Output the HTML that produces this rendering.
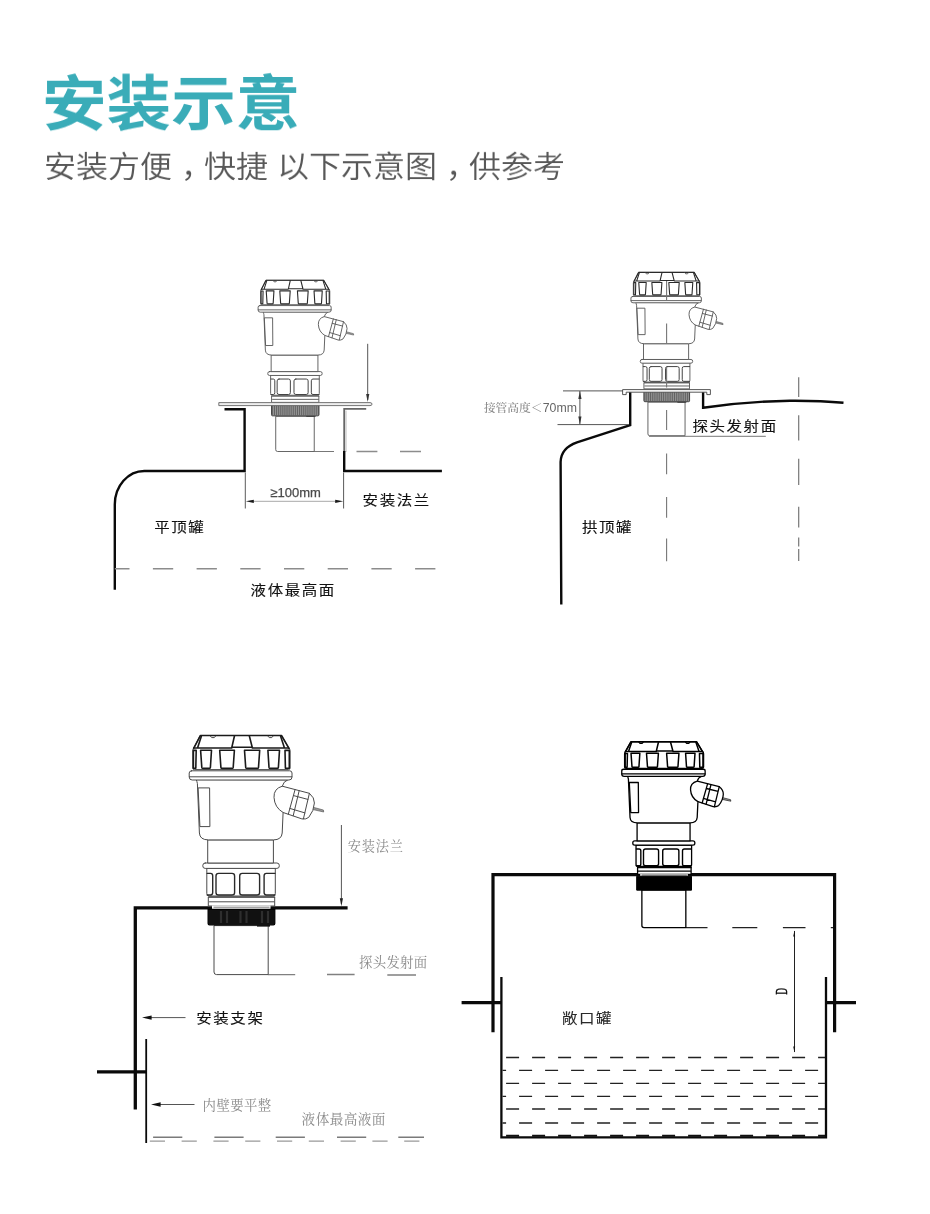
<!DOCTYPE html>
<html lang="zh-CN">
<head>
<meta charset="utf-8">
<title>安装示意</title>
<style>
html,body{margin:0;padding:0;background:#fff;}
body{width:930px;height:1214px;overflow:hidden;position:relative;font-family:"Liberation Sans","Noto Sans CJK SC",sans-serif;}
svg{position:absolute;left:0;top:0;display:block;will-change:transform;}
#sbody path,#sbody rect{stroke:var(--s);stroke-width:var(--w);vector-effect:non-scaling-stroke;}
#sbody .bold{stroke:var(--bs);stroke-width:var(--b);}
#sbody .nutf{stroke:var(--ns);stroke-width:var(--nw);}
#sbody .thin{stroke-width:0.6;}
.t{font-family:"Liberation Sans","Noto Sans CJK SC",sans-serif;fill:#111;font-weight:400;stroke:#111;stroke-width:0.12px;}
.g{font-family:"Liberation Serif","Noto Serif CJK SC",serif;fill:#8a8a8a;}
.k{stroke:#0a0a0a;fill:none;stroke-linejoin:miter;}
.n{stroke:#555;fill:none;stroke-width:1;}
.d{stroke:#888;fill:none;stroke-width:1.3;}
h1{position:absolute;left:42.4px;top:56px;margin:0;font-size:63.5px;line-height:92px;font-weight:700;color:#3aacb8;white-space:nowrap;letter-spacing:0;transform:scale(1.017,0.935);transform-origin:0 78px;will-change:transform;}
p.sub{position:absolute;left:43.5px;top:143px;margin:0;font-size:32px;line-height:46px;font-weight:350;color:#585858;white-space:nowrap;transform:scale(1,0.94);transform-origin:0 37px;will-change:transform;}
p.sub i{font-style:normal;display:inline-block;width:32px;text-indent:9px;}
</style>
</head>
<body>
<h1>安装示意</h1>
<p class="sub">安装方便<i>，</i>快捷 以下示意图<i>，</i>供参考</p>
<svg width="930" height="1214" viewBox="0 0 930 1214">
<defs>

<g id="sbody" fill="#fff" stroke-linejoin="round" stroke-linecap="round">
  <!-- probe -->
  <path d="M214 926 V972 Q214 974.6 216.6 974.6 H268.2 V926 Z"/>
  <!-- lower ring -->
  <path d="M208.7 896.8 H274.7 V906 H208.7 Z"/>
  <path d="M208.7 897.3 H274.7 M209.5 901.8 H274" fill="none"/>
  <!-- nut -->
  <path d="M206.8 868.5 V893.5 Q206.8 896 209.5 896 H272.6 Q275.3 896 275.3 893.5 V868.5 Z"/>
  <path d="M207.2 873.4 H210.6 Q212.7 873.4 212.7 875.8 V892.6 Q212.7 895 210.6 895 H207.2 M218.6 873.4 H232 Q234.6 873.4 234.6 876 V892.4 Q234.6 895 232 895 H218.6 Q216 895 216 892.4 V876 Q216 873.4 218.6 873.4 Z M242.3 873.4 H257 Q259.6 873.4 259.6 876 V892.4 Q259.6 895 257 895 H242.3 Q239.7 895 239.7 892.4 V876 Q239.7 873.4 242.3 873.4 Z M274.9 873.4 H266.4 Q264.1 873.4 264.1 875.8 V892.6 Q264.1 895 266.4 895 H274.9" fill="none" class="nutf"/>
  <!-- ring -->
  <rect x="202.8" y="863" width="76.5" height="5.4" rx="2.4"/>
  <!-- neck -->
  <path d="M208.1 839.9 H273.4 V863 H208.1 Z"/>
  <!-- gland -->
  <path d="M313 807.2 L323.4 810 L323.7 812 L313 809.6 Z" fill="#999" class="thin"/>
  <path d="M282.3 786.2 L309.4 793.3 Q314.6 797.6 314.4 803 Q314 811 308.7 817.4 Q306 819.6 301.9 818.9 L283.1 812.5"/>
  <path d="M295.1 789.4 L288.3 814.2 M299.2 790.6 L293.2 815.8 M309.4 793.3 L303.4 818.9 M293.6 795.6 L307.9 799.4 M289.8 808.4 L304.9 812.9" fill="none"/>
  <!-- body -->
  <path d="M196.4 780 Q197 781.6 197.4 783.6 L199.4 833 Q199.8 839.9 208.5 839.9 H273.4 Q281.6 839.9 282.2 833 L283.1 812.5 Q274.6 807.5 274 797.4 Q273.6 788.6 282.3 786.2 Q283.4 781.5 287.4 780 Z"/>
  <path d="M198.5 787.9 H209.6 L209.9 826.6 H200.3 Z" />
  <!-- flange -->
  <path d="M191.6 770.8 H289.6 Q292 770.8 292 773 V777 Q292 780 289 780 H192.2 Q189.2 780 189.2 777 V773 Q189.2 770.8 191.6 770.8 Z"/>
  <path d="M189.4 776.8 H291.8" fill="none"/>
  <!-- cap -->
  <path d="M200.5 735.5 H281.5 L288.6 747.8 Q290.1 749 290.1 751 V768 Q290.1 769.6 288.5 769.6 H194.3 Q192.7 769.6 192.7 768 V751 Q192.7 749 193.9 747.8 Z"/>
  <path d="M193.6 748.4 L200.5 735.5 H281.5 L289 748.4" fill="none" class="bold"/>
  <path d="M193.9 748 H231.7 L234.5 735.7 M288.6 748 H252.4 L249.3 735.7 M231.7 747.3 H252.4 M201.3 736.4 L197.6 747.8 M280.7 736.4 L284.4 747.8" fill="none" class="bold"/>
  <path d="M193.4 750.4 V768.2 H195.8 L196.2 750.4 Z M200.6 750.2 L201.8 767.4 Q201.9 768.4 202.9 768.4 H209.3 Q210.3 768.4 210.4 767.4 L211.5 750.2 Z M219.7 750.2 L220.9 767.4 Q221 768.4 222 768.4 H232.1 Q233.1 768.4 233.2 767.4 L234.4 750.2 Z M244.5 750.2 L245.7 767.4 Q245.8 768.4 246.8 768.4 H257.4 Q258.4 768.4 258.5 767.4 L259.7 750.2 Z M267.9 750.2 L269 767.4 Q269.1 768.4 270.1 768.4 H277.3 Q278.3 768.4 278.4 767.4 L279.5 750.2 Z M285 750.4 L285.4 768.2 H289.3 V750.4 Z" fill="none" class="bold"/>
  <path d="M210.5 736.2 l1.2 1.4 h2.6 l1.2 -1.4 M268 736.2 l1.2 1.4 h2.6 l1.2 -1.4" fill="none"/>
</g>

<path id="ah" d="M0 0 L-1.6 -8 L1.6 -8 Z"/>
<path id="ah3" d="M0 0 L-2.2 -9.6 L2.2 -9.6 Z"/>
<path id="ah2" d="M0 0 L-1.3 -6 L0.6 -6 Z"/>
</defs>

<!-- ============ diagram 1 : flat-top tank ============ -->
<g id="d1">
  <path style="stroke-width:2.4" class="k" d="M224.5 409.3 H244.6 V471 H144.3 A29.5 33.5 0 0 0 114.8 504.5 V589.8"/>
  <path style="stroke:#666;stroke-width:1.8" class="n" d="M344.2 452 V408.8 H366.2"/>
  <path style="stroke:#bbb;stroke-width:1" class="n" d="M346 452 V410.6"/>
  <path style="stroke-width:2.4" class="k" d="M344.2 451 V471 H441.9"/>
  <path style="stroke:#8c8c8c;stroke-width:1.4;stroke-dasharray:20.3 23.4;stroke-dashoffset:5.6" class="d" d="M114.8 568.8 H436"/>
  <path style="stroke:#8c8c8c;stroke-width:1.4" class="d" d="M356.5 451.5 H377.4 M400 451.5 H421"/>
  <path style="stroke:#5a5a5a" class="n" d="M245.3 472.5 V508.5 M343.6 472.5 V508.5"/>
  <path style="stroke:#a8a8a8" class="n" d="M250 501.3 H339"/>
  <use href="#ah" fill="#1a1a1a" transform="translate(245.8 501.3) rotate(90)"/>
  <use href="#ah" fill="#1a1a1a" transform="translate(343.2 501.3) rotate(-90)"/>
  <path class="n" d="M367.7 343.8 V400"/>
  <use href="#ah" fill="#333" transform="translate(367.7 402)"/>
  <path style="stroke:#777" class="n" d="M314 451.5 H334"/>
  <g transform="translate(123.692 -246.332) scale(0.71047 0.71602)" style="--s:#555;--w:0.9;--bs:#2a2a2a;--b:1.1;--ns:#444;--nw:1"><use href="#sbody"/><path d="M208.1 909.4 H274.8 V923.4 Q274.8 924.8 273.4 924.8 H209.5 Q208.1 924.8 208.1 923.4 Z" fill="#9a9a9a" stroke="#444" stroke-width="1" vector-effect="non-scaling-stroke"/><path d="M209.60 910 V924 M212.30 910 V924 M215.00 910 V924 M217.70 910 V924 M220.40 910 V924 M223.10 910 V924 M225.80 910 V924 M228.50 910 V924 M231.20 910 V924 M233.90 910 V924 M236.60 910 V924 M239.30 910 V924 M242.00 910 V924 M244.70 910 V924 M247.40 910 V924 M250.10 910 V924 M252.80 910 V924 M255.50 910 V924 M258.20 910 V924 M260.90 910 V924 M263.60 910 V924 M266.30 910 V924 M269.00 910 V924 M271.70 910 V924 M274.40 910 V924" stroke="#4a4a4a" stroke-width="0.7" vector-effect="non-scaling-stroke" fill="none"/><path d="M257 925.6 H270" stroke="#444" stroke-width="1.2" vector-effect="non-scaling-stroke" fill="none"/></g>
  <path d="M218.8 402.6 H370 Q372 402.6 372 404.1 Q372 405.6 370 405.6 H218.8 Z" fill="#eee" stroke="#666" stroke-width="0.9"/>
  <text x="295.6" y="497.4" text-anchor="middle" font-size="13" style="font-family:'Liberation Sans',sans-serif" fill="#4a4a4a" stroke="#4a4a4a" stroke-width="0.25">≥100mm</text>
  <text class="t" transform="translate(362.60 504.60) scale(1.060 0.970)" font-size="14.6" letter-spacing="1.5">安装法兰</text>
  <text class="t" transform="translate(154.20 532.40) scale(1.060 0.970)" font-size="14.6" letter-spacing="1.5">平顶罐</text>
  <text class="t" transform="translate(250.60 594.80) scale(1.060 0.970)" font-size="14.6" letter-spacing="1.5">液体最高面</text>
</g>

<!-- ============ diagram 2 : dome-top tank ============ -->
<g id="d2">
  <path style="stroke:#777;stroke-width:1.2" class="d" d="M798.7 377.2 V397.1 M798.7 415.3 V440.6 M798.7 458.7 V485 M798.7 506.7 V527.6 M798.7 537.5 V546.6 M798.7 549 V561.1"/>
  <path style="stroke-width:2.4" class="k" d="M630.2 391 V425.2 L577 442.4 Q561 448 560.6 462 L561.3 604.5"/>
  <path style="stroke-width:2.4" class="k" d="M703.1 391 V407.7 Q745 401.5 790 400.7 Q820 400.5 843.5 402.7"/>
  <path class="n" d="M563 390.9 H623 M557.5 424.6 H629 M579.9 391 V424.4"/>
  <use href="#ah" fill="#333" transform="translate(579.9 391) rotate(180)"/>
  <use href="#ah" fill="#333" transform="translate(579.9 424.5)"/>
  <path style="stroke:#777" class="n" d="M649 436.3 H765.8"/>
  <g transform="translate(501.388 -229.930) scale(0.68480 0.68298)" style="--s:#555;--w:0.9;--bs:#2a2a2a;--b:1.1;--ns:#444;--nw:1"><use href="#sbody"/><path d="M208.1 909.4 H274.8 V923.4 Q274.8 924.8 273.4 924.8 H209.5 Q208.1 924.8 208.1 923.4 Z" fill="#9a9a9a" stroke="#444" stroke-width="1" vector-effect="non-scaling-stroke"/><path d="M209.60 910 V924 M212.30 910 V924 M215.00 910 V924 M217.70 910 V924 M220.40 910 V924 M223.10 910 V924 M225.80 910 V924 M228.50 910 V924 M231.20 910 V924 M233.90 910 V924 M236.60 910 V924 M239.30 910 V924 M242.00 910 V924 M244.70 910 V924 M247.40 910 V924 M250.10 910 V924 M252.80 910 V924 M255.50 910 V924 M258.20 910 V924 M260.90 910 V924 M263.60 910 V924 M266.30 910 V924 M269.00 910 V924 M271.70 910 V924 M274.40 910 V924" stroke="#4a4a4a" stroke-width="0.7" vector-effect="non-scaling-stroke" fill="none"/><path d="M257 925.6 H270" stroke="#444" stroke-width="1.2" vector-effect="non-scaling-stroke" fill="none"/></g>
  <path d="M622.6 389.6 H710.4 V394.6 H706.8 V392.2 H626.2 V394.6 H622.6 Z" fill="#fff" stroke="#444" stroke-width="0.9"/>
  <path style="stroke:#777;stroke-width:1.1" class="d" d="M666.6 280.9 V300 M666.6 323.5 V343.8 M666.6 366.5 V387.5 M666.6 410 V429.9 M666.6 453.4 V474.3 M666.6 496.9 V517.8 M666.6 538.6 V561.2"/>
  <text style="fill:#858585" class="g" x="483.9" y="412.3" font-size="11.7" font-weight="500">接管高度＜<tspan style="font-family:'Liberation Sans',sans-serif;fill:#666" font-size="12.3" dx="0.4">70mm</tspan></text>
  <text class="t" transform="translate(692.40 431.20) scale(1.060 0.970)" font-size="14.6" letter-spacing="1.5">探头发射面</text>
  <text class="t" transform="translate(582.00 532.40) scale(1.060 0.970)" font-size="14.6" letter-spacing="1.5">拱顶罐</text>
</g>

<!-- ============ diagram 3 : bracket ============ -->
<g id="d3">
  <path style="stroke-width:3.3" class="k" d="M347.6 907.8 H135.3 V1109.6"/>
  <path style="stroke-width:3.3" class="k" d="M97 1071.8 H146"/>
  <path style="stroke-width:1.8" class="k" d="M146.2 1039 V1143"/>
  <path style="stroke:#555" class="n" d="M145 1017.6 H185.5 M154 1104.5 H194.5"/>
  <use href="#ah3" fill="#111" transform="translate(142 1017.6) rotate(90)"/>
  <use href="#ah3" fill="#111" transform="translate(151 1104.5) rotate(90)"/>
  <path style="stroke:#555" class="n" d="M341.4 825 V904"/>
  <use href="#ah" fill="#222" transform="translate(341.4 906.2)"/>
  <path style="stroke:#808080;stroke-width:1.3" class="d" d="M268 974.6 H295.2 M327 974.5 H354.6 M387.3 975 H416"/>
  <path style="stroke:#7a7a7a;stroke-width:1.6;stroke-dasharray:29.2 32.1" class="d" d="M153.1 1137.3 H424"/>
  <path style="stroke:#999;stroke-width:1.4;stroke-dasharray:15.2 16.6" class="d" d="M149.8 1141.1 H424"/>
  <g transform="translate(0.000 0.000) scale(1.00000 1.00000)" style="--s:#4a4a4a;--w:1;--bs:#1a1a1a;--b:1.6;--ns:#2a2a2a;--nw:1.4"><use href="#sbody"/><path d="M212 905.6 H270.5 V909 H212 Z" fill="#fff" stroke="none"/><path d="M213.5 907.2 H269.5" stroke="#555" stroke-width="0.8" vector-effect="non-scaling-stroke" fill="none"/><path d="M208.1 909.4 H274.8 V923.4 Q274.8 924.8 273.4 924.8 H209.5 Q208.1 924.8 208.1 923.4 Z" fill="#111" stroke="#000" stroke-width="1.2" vector-effect="non-scaling-stroke"/><path d="M221.0 911 V923 M227.0 911 V923 M240.5 911 V923 M246.5 911 V923 M262.0 911 V923 M268.0 911 V923" stroke="#2e2e2e" stroke-width="2.2" vector-effect="non-scaling-stroke" fill="none"/><path d="M257 925.8 H270" stroke="#111" stroke-width="1.6" vector-effect="non-scaling-stroke" fill="none"/></g>
  <text class="g" x="347.7" y="851" font-size="13.2" letter-spacing="0.85">安装法兰</text>
  <text class="g" x="359" y="966.6" font-size="13.4" letter-spacing="0.3">探头发射面</text>
  <text class="t" transform="translate(196.20 1023.40) scale(1.060 0.970)" font-size="14.6" letter-spacing="1.5" style="stroke-width:0.1px">安装支架</text>
  <text class="g" x="202.6" y="1109.8" font-size="13.4" letter-spacing="0.4">内壁要平整</text>
  <text class="g" x="301.6" y="1123.8" font-size="13.6" letter-spacing="0.45">液体最高液面</text>
</g>

<!-- ============ diagram 4 : open tank ============ -->
<g id="d4">
  <path style="stroke-width:3.2" class="k" d="M493 1032.3 V874.6 H834.6 V1032.3"/>
  <path style="stroke-width:2.3" class="k" d="M501.4 977 V1137.4 H826 V977"/>
  <path style="stroke-width:3.2" class="k" d="M461.6 1002.6 H501.4 M826 1002.6 H856"/>
  <path style="stroke-width:1.3;stroke:#222;stroke-dasharray:13 13" class="k" d="M506.1 1057.5 H825 M506.1 1083.3 H825 M506.1 1109 H825"/>
  <path style="stroke-width:1.3;stroke:#222;stroke-dasharray:13 13;stroke-dashoffset:9.4" class="k" d="M502.5 1070.3 H825 M502.5 1096.3 H825 M502.5 1123 H825"/>
  <path style="stroke-width:2;stroke:#111;stroke-dasharray:13 13" class="k" d="M506.1 1135.8 H825"/>
  <path style="stroke-width:1.2;stroke:#222" class="k" d="M686 927.6 H707.5 M732.3 927.6 H757.3 M782.9 927.6 H805.5 M830.8 927.6 H833"/>
  <path style="stroke-width:1;stroke:#222" class="k" d="M794.5 931 V1052"/>
  <use href="#ah2" fill="#111" transform="translate(794.5 930.5) scale(1 -1)"/>
  <use href="#ah2" fill="#111" transform="translate(794.5 1052.5)"/>
  <g transform="translate(468.303 170.257) scale(0.81109 0.77708)" style="--s:#000;--w:1.3;--bs:#000;--b:1.5;--ns:#000;--nw:1.4"><use href="#sbody"/><path d="M212 905.6 H270.5 V909 H212 Z" fill="#fff" stroke="none"/><path d="M213.5 907 H269.5" stroke="#000" stroke-width="0.8" vector-effect="non-scaling-stroke" fill="none"/><path d="M207.6 908.6 H275.2 V926.4 H207.6 Z" fill="#000" stroke="#000" stroke-width="1" vector-effect="non-scaling-stroke"/></g>
  <text x="0" y="0" transform="translate(786.6 994.6) rotate(-90) scale(0.56 1)" font-size="16" style="font-family:'Liberation Serif',serif" fill="#000" stroke="#000" stroke-width="0.5">D</text>
  <text class="t" transform="translate(562.00 1023.20) scale(1.060 0.970)" font-size="14.6" letter-spacing="1.5" style="fill:#2a2a2a;stroke-width:0.1px">敞口罐</text>
</g>
</svg>
</body>
</html>
